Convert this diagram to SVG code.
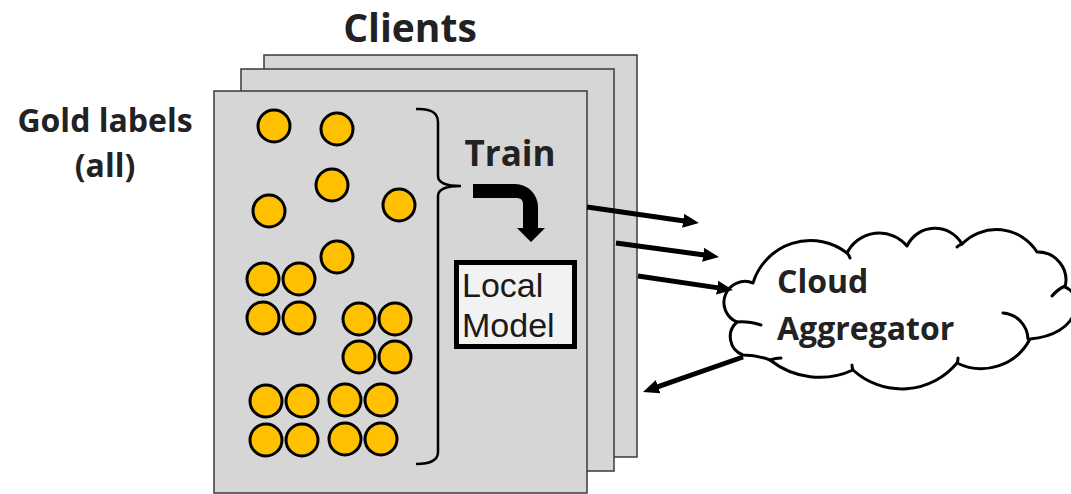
<svg xmlns="http://www.w3.org/2000/svg" width="1071" height="494" viewBox="0 0 1071 494">
<style>
.panel{fill:#d6d6d6;stroke:#3a3a3a;stroke-width:1.5}
.dot{fill:#ffc000;stroke:#000;stroke-width:3}
.lbl{font-family:"Open Sans","Liberation Sans",sans-serif;font-weight:700;fill:#222}
.mdl{font-family:"Liberation Sans",Arial,sans-serif;fill:#1a1a1a;font-size:34px}
.conn{stroke:#000;stroke-width:5;fill:none}
.ln{stroke:#000;stroke-width:3;fill:none;stroke-linecap:round}
</style>
<defs>
<marker id="ah" markerUnits="userSpaceOnUse" markerWidth="16" markerHeight="14" refX="3" refY="7" orient="auto">
<path d="M0,0 L16,7 L0,14 Z" fill="#000"/>
</marker>
</defs>
<rect width="1071" height="494" fill="#fff"/>
<g id="title"><text class="lbl" x="410" y="42" font-size="39" text-anchor="middle">Clients</text></g>
<g id="gold-labels">
<text class="lbl" x="105" y="132" font-size="32" text-anchor="middle">Gold labels</text>
<text class="lbl" x="105" y="177" font-size="32" text-anchor="middle">(all)</text>
</g>
<g id="client-3"><rect class="panel" x="264" y="55" width="373" height="402"/></g>
<g id="client-2"><rect class="panel" x="241" y="69" width="373" height="402"/></g>
<g id="client-1">
<rect class="panel" x="214" y="91" width="373" height="402"/>
<g id="labels">
<circle class="dot" cx="274" cy="126" r="16"/>
<circle class="dot" cx="337" cy="129" r="16"/>
<circle class="dot" cx="332" cy="185" r="16"/>
<circle class="dot" cx="269" cy="211" r="16"/>
<circle class="dot" cx="399" cy="205" r="16"/>
<circle class="dot" cx="337" cy="257" r="16"/>
<circle class="dot" cx="263" cy="279" r="16"/>
<circle class="dot" cx="299" cy="279" r="16"/>
<circle class="dot" cx="263" cy="318" r="16"/>
<circle class="dot" cx="299" cy="318" r="16"/>
<circle class="dot" cx="359" cy="319" r="16"/>
<circle class="dot" cx="395" cy="319" r="16"/>
<circle class="dot" cx="359" cy="357" r="16"/>
<circle class="dot" cx="395" cy="357" r="16"/>
<circle class="dot" cx="266" cy="401" r="16"/>
<circle class="dot" cx="302" cy="401" r="16"/>
<circle class="dot" cx="345" cy="400" r="16"/>
<circle class="dot" cx="381" cy="400" r="16"/>
<circle class="dot" cx="266" cy="440" r="16"/>
<circle class="dot" cx="302" cy="440" r="16"/>
<circle class="dot" cx="345" cy="439" r="16"/>
<circle class="dot" cx="381" cy="439" r="16"/>
</g>
<path d="M416,109 Q438,108 438,122 L438,176 Q438,186 461,186 Q438,186 438,196 L438,452 Q438,464 416,464" fill="none" stroke="#000" stroke-width="2.5"/>
</g>
<g id="train">
<text class="lbl" x="510" y="166" font-size="35" text-anchor="middle">Train</text>
<path d="M473,184 L515,184 A23,23 0 0 1 538,207 L538,228 L545,228 L531,242 L517,228 L523,228 L523,204 Q523,198 517,198 L473,198 Z" fill="#000"/>
</g>
<g id="local-model">
<rect x="456.5" y="262.5" width="118" height="84" fill="#f2f2f2" stroke="#000" stroke-width="5"/>
<text class="mdl" x="462" y="297">Local</text>
<text class="mdl" x="462" y="337">Model</text>
</g>
<g id="cloud-aggregator">
<path d="M737,322 A21,21 0 0 1 753,283 A60,60 0 0 1 847,253 A36,36 0 0 1 907,246 A31,31 0 0 1 962,244 A48,48 0 0 1 1037,252 A28,28 0 0 1 1065,287 C1085,295 1080,335 1030,339 A55,55 0 0 1 957,363 A72,72 0 0 1 853,370 A80,80 0 0 1 770,360 Q757,355 743,355 A19.5,19.5 0 0 1 737,322 Z" fill="#fff" stroke="#000" stroke-width="3" stroke-linejoin="round"/>
<path class="ln" d="M737,322 Q748,321 761,325"/>
<path class="ln" d="M770,360 Q776,358 781,358"/>
<path class="ln" d="M1003,313 A27,27 0 0 1 1028,339"/>
<path class="ln" d="M1065,286 Q1058,289 1052,296"/>
<path class="ln" d="M853,370 Q852,368 852,365"/>
<path class="ln" d="M957,363 Q958,361 958,358"/>
<path class="ln" d="M847,253 Q849,255 850,258"/>
<path class="ln" d="M962,244 Q959,245 957,247"/>
<text class="lbl" x="777" y="293" font-size="32">Cloud</text>
<text class="lbl" x="777" y="340" font-size="32">Aggregator</text>
</g>
<g id="connectors">
<line class="conn" x1="587" y1="207" x2="686.1" y2="221.2" marker-end="url(#ah)"/>
<line class="conn" x1="616" y1="243" x2="706.1" y2="255.2" marker-end="url(#ah)"/>
<line class="conn" x1="638" y1="276" x2="720.1" y2="288.1" marker-end="url(#ah)"/>
<line class="conn" x1="743" y1="357" x2="655.3" y2="387.7" marker-end="url(#ah)"/>
</g>
</svg>
